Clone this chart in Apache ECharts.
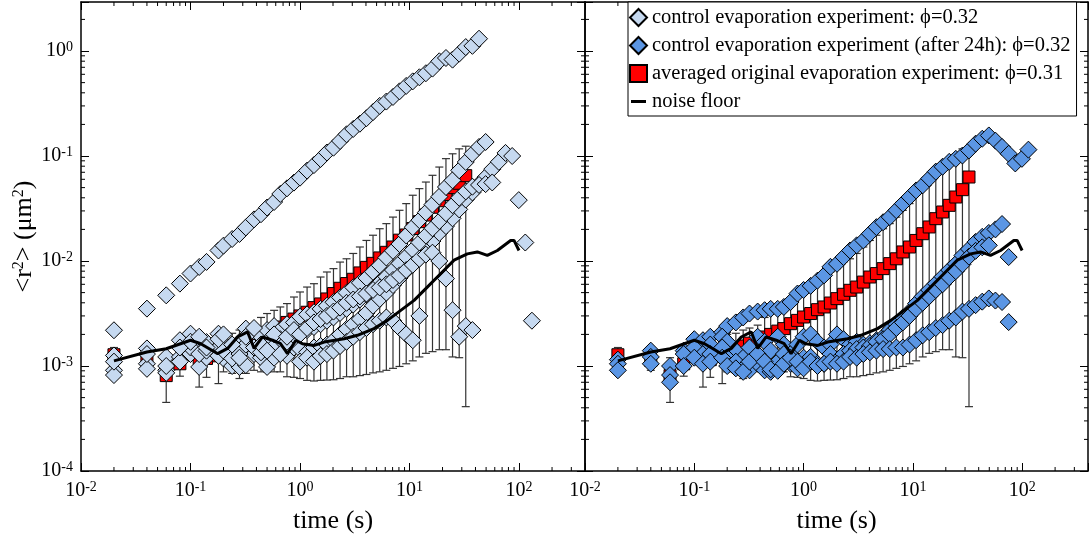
<!DOCTYPE html>
<html>
<head>
<meta charset="utf-8">
<script src="https://cdn.jsdelivr.net/npm/echarts@6/dist/echarts.min.js"></script>
<style>
html, body { margin: 0; padding: 0; background: #fff; }
#main { width: 1091px; height: 548px; }
</style>
</head>
<body>
<div id="main"></div>
<script>
var chart = echarts.init(document.getElementById('main'), null, {renderer: 'canvas'});

var FONT = 'Liberation Serif';
var X_MIN = 0.01, X_MAX = 400, Y_MIN = 1e-4, Y_MAX = 2.93;

var NAME_CTL = 'control evaporation experiment: \u03d5=0.32';
var NAME_DAY = 'control evaporation experiment (after 24h): \u03d5=0.32';
var NAME_RED = 'averaged original evaporation experiment: \u03d5=0.31';
var NAME_NOISE = 'noise floor';

// minor tick positions (2..9 of each decade)
var minorX = [0.02, 0.03, 0.04, 0.05, 0.06, 0.07, 0.08, 0.09,
  0.2, 0.3, 0.4, 0.5, 0.6, 0.7, 0.8, 0.9, 2, 3, 4, 5, 6, 7, 8, 9,
  20, 30, 40, 50, 60, 70, 80, 90, 200, 300];
var minorY = [2e-4, 3e-4, 4e-4, 5e-4, 6e-4, 7e-4, 8e-4, 9e-4,
  2e-3, 3e-3, 4e-3, 5e-3, 6e-3, 7e-3, 8e-3, 9e-3,
  2e-2, 3e-2, 4e-2, 5e-2, 6e-2, 7e-2, 8e-2, 9e-2,
  0.2, 0.3, 0.4, 0.5, 0.6, 0.7, 0.8, 0.9, 2];

// averaged original experiment (red squares + error bars)
var tRed = [0.02, 0.04, 0.06, 0.08, 0.12, 0.14, 0.18, 0.20, 0.24, 0.28, 0.32, 0.38,
  0.44, 0.50, 0.58, 0.66, 0.76, 0.88, 1.0, 1.16, 1.34, 1.54, 1.76, 2.02,
  2.32, 2.66, 3.06, 3.52, 4.04, 4.64, 5.34, 6.14, 7.06, 8.1, 9.32, 10.7,
  12.3, 14.1, 16.2, 18.7, 21.5, 24.7, 28.4, 32.6];
var redMeanL = [1.28e-3, 1.13e-3, 8.1e-4, 1.05e-3, 1.18e-3, 1.18e-3, 1.25e-3, 1.35e-3,
  1.45e-3, 1.55e-3, 1.65e-3, 1.8e-3, 1.92e-3, 2.05e-3, 2.2e-3, 2.35e-3,
  2.6e-3, 2.8e-3, 3.0e-3, 3.25e-3, 3.6e-3, 3.9e-3, 4.35e-3, 4.9e-3,
  5.5e-3, 6.1e-3, 6.7e-3, 7.7e-3, 8.7e-3, 9.5e-3, 1.07e-2, 1.21e-2,
  1.36e-2, 1.58e-2, 1.77e-2, 2.04e-2, 2.37e-2, 2.74e-2, 3.25e-2, 3.75e-2,
  4.3e-2, 5.0e-2, 5.5e-2, 6.5e-2];
var redMeanR = [1.28e-3, 1.13e-3, 8.1e-4, 1.05e-3, 1.15e-3, 1.15e-3, 1.25e-3, 1.35e-3,
  1.45e-3, 1.55e-3, 1.65e-3, 1.78e-3, 1.89e-3, 2.0e-3, 2.15e-3, 2.27e-3,
  2.53e-3, 2.72e-3, 2.93e-3, 3.16e-3, 3.44e-3, 3.65e-3, 3.98e-3, 4.38e-3,
  4.82e-3, 5.26e-3, 5.65e-3, 6.3e-3, 7.04e-3, 7.59e-3, 8.46e-3, 9.44e-3,
  1.05e-2, 1.22e-2, 1.36e-2, 1.57e-2, 1.82e-2, 2.11e-2, 2.53e-2, 2.93e-2,
  3.39e-2, 4.07e-2, 4.78e-2, 6.31e-2];
var redHigh = [1.5e-3, 1.4e-3, 1.2e-3, 1.31e-3, 1.3e-3, 1.35e-3, 1.7e-3, 2.0e-3,
  2.05e-3, 2.2e-3, 2.3e-3, 2.45e-3, 2.9e-3, 3.16e-3, 3.39e-3, 3.65e-3,
  3.93e-3, 4.54e-3, 5.07e-3, 5.65e-3, 6.08e-3, 7.04e-3, 7.86e-3, 8.46e-3,
  9.77e-3, 1.05e-2, 1.18e-2, 1.36e-2, 1.57e-2, 1.76e-2, 2.03e-2, 2.27e-2,
  2.62e-2, 3.04e-2, 3.52e-2, 4.23e-2, 4.89e-2, 5.65e-2, 6.55e-2, 7.85e-2,
  9.44e-2, 0.105, 0.117, 0.124];
var redLow = [9.1e-4, 9.1e-4, 4.5e-4, 8.0e-4, 6.3e-4, 7.8e-4, 6.8e-4, 8.8e-4,
  8.5e-4, 7.6e-4, 8.5e-4, 9.1e-4, 8.8e-4, 8.8e-4, 8.8e-4, 8.8e-4,
  7.9e-4, 7.8e-4, 7.6e-4, 7.3e-4, 7.2e-4, 7.3e-4, 7.35e-4, 7.4e-4,
  7.6e-4, 7.9e-4, 7.9e-4, 8.1e-4, 8.3e-4, 8.6e-4, 8.8e-4, 9.1e-4,
  9.5e-4, 9.9e-4, 1.05e-3, 1.12e-3, 1.22e-3, 1.32e-3, 1.37e-3, 1.43e-3,
  1.43e-3, 1.22e-3, 1.2e-3, 4.1e-4];

// noise floor
var tNoise = [0.02, 0.04, 0.06, 0.10, 0.124, 0.177, 0.218, 0.269, 0.332, 0.381, 0.454, 0.561,
  0.665, 0.768, 0.916, 1.05, 1.35, 1.66, 2.53, 3.34, 4.74, 6.28, 8.31, 11.0,
  14.6, 19.3, 25.5, 33.7, 41.6, 51.3, 63.4, 83.8, 89.9, 99.8];
var vNoise = [1.12e-3, 1.36e-3, 1.46e-3, 1.76e-3, 1.63e-3, 1.31e-3, 1.47e-3, 1.89e-3,
  2.11e-3, 1.47e-3, 1.89e-3, 1.76e-3, 1.63e-3, 1.31e-3, 1.76e-3, 1.63e-3,
  1.57e-3, 1.69e-3, 1.82e-3, 1.96e-3, 2.27e-3, 2.72e-3, 3.39e-3, 4.22e-3,
  5.67e-3, 7.6e-3, 1.02e-2, 1.17e-2, 1.22e-2, 1.13e-2, 1.26e-2, 1.57e-2,
  1.57e-2, 1.26e-2];

// lag times of the single-particle trajectories (diamonds)
var tD = [0.02, 0.04, 0.06, 0.08, 0.10, 0.12, 0.14, 0.18, 0.20, 0.24, 0.28, 0.32,
  0.38, 0.44, 0.50, 0.58, 0.66, 0.76, 0.88, 1.0, 1.16, 1.34, 1.54, 1.76,
  2.02, 2.32, 2.66, 3.06, 3.52, 4.04, 4.64, 5.34, 6.14, 7.06, 8.1, 9.32,
  10.7, 12.3, 14.1, 16.2, 18.7, 21.5, 24.7, 28.4, 32.6, 37.5, 43.1, 49.5,
  56.9, 65.4, 75.2, 86.5, 99.4, 114, 131];

// control experiment, left panel
var ctlTop = [2.19e-3, 3.52e-3, 4.71e-3, 6.09e-3, 7.6e-3, 8.77e-3, 9.8e-3, 1.26e-2,
  1.4e-2, 1.62e-2, 1.81e-2, 2.09e-2, 2.49e-2, 2.79e-2, 3.23e-2, 3.65e-2,
  4.35e-2, 4.92e-2, 5.58e-2, 6.22e-2, 7.26e-2, 8.2e-2, 9.36e-2, 0.108,
  0.12, 0.139, 0.161, 0.181, 0.203, 0.229, 0.262, 0.3,
  0.33, 0.365, 0.413, 0.465, 0.514, 0.562, 0.614, 0.68,
  0.798, 0.858, 0.828, 0.944, 1.09, 1.12, 1.31];
var ctlB = [1.26e-3, 1.47e-3, 1.22e-3, 1.76e-3, 2.03e-3, 1.47e-3, 1.69e-3, 2.03e-3,
  1.65e-3, 1.47e-3, 1.7e-3, 2.27e-3, 2.1e-3, 1.9e-3, 2.2e-3, 2.4e-3,
  2.2e-3, 2.5e-3, 2.6e-3, 2.95e-3, 3.1e-3, 3.25e-3, 3.5e-3, 3.75e-3,
  4.05e-3, 4.5e-3, 5.0e-3, 5.6e-3, 6.2e-3, 6.9e-3, 7.9e-3, 9.1e-3,
  1.08e-2, 1.25e-2, 1.45e-2, 1.75e-2, 2.1e-2, 2.45e-2, 2.9e-2, 3.45e-2,
  4.1e-2, 5.07e-2, 5.87e-2, 7.31e-2, 8.77e-2, 0.105, 0.122, 0.136];
var ctlC = [9.1e-4, 1.05e-3, 9.1e-4, 1.22e-3, 1.3e-3, 9.8e-4, 1.2e-3, 1.5e-3,
  1.18e-3, 1.0e-3, 9.8e-4, 1.02e-3, 1.3e-3, 1.2e-3, 9.8e-4, 1.2e-3,
  1.4e-3, 1.25e-3, 1.5e-3, 1.45e-3, 1.35e-3, 1.5e-3, 1.55e-3, 1.6e-3,
  1.75e-3, 2.0e-3, 2.25e-3, 2.5e-3, 2.8e-3, 3.2e-3, 3.75e-3, 4.35e-3,
  5.0e-3, 5.9e-3, 6.9e-3, 8.1e-3, 9.5e-3, 1.12e-2, 1.33e-2, 1.55e-2,
  1.85e-2, 2.15e-2, 2.55e-2, 3.1e-2, 3.85e-2, 4.5e-2, 5.4e-2, 6.3e-2,
  7.5e-2, 8.8e-2, 0.107, 0.1];
var ctlD = [8.2e-4, 9.4e-4, 8.6e-4, 1.1e-3, 1.5e-3, 1.3e-3, 1.4e-3, 1.25e-3,
  1.4e-3, 1.18e-3, 1.3e-3, 1.6e-3, 1.5e-3, 1.35e-3, 1.7e-3, 1.55e-3,
  1.8e-3, 1.7e-3, 1.95e-3, 2.1e-3, 2.2e-3, 2.35e-3, 2.5e-3, 2.7e-3,
  2.9e-3, 3.2e-3, 3.5e-3, 3.85e-3, 4.3e-3, 4.8e-3, 5.4e-3, 6.2e-3,
  7.1e-3, 8.2e-3, 9.5e-3, 1.1e-2, 1.28e-2, 1.5e-2, 1.75e-2, 2.05e-2,
  2.4e-2, 2.85e-2, 3.4e-2, 4.0e-2, 4.6e-2, 5.1e-2, 5.3e-2, 5.4e-2, 5.6e-2];
var ctlE = [1.1e-3, 1.3e-3, 1.0e-3, 1.5e-3, 1.7e-3, 1.9e-3, 1.5e-3, 1.8e-3,
  2.0e-3, 1.6e-3, 1.2e-3, 1.9e-3, 2.3e-3, 1.6e-3, 1.4e-3, 2.0e-3,
  1.3e-3, 1.9e-3, 2.2e-3, 2.0e-3, 2.3e-3, 2.6e-3, 2.8e-3, 3.0e-3,
  3.3e-3, 3.6e-3, 4.0e-3, 4.3e-3, 4.6e-3, 4.9e-3, 5.3e-3, 5.6e-3,
  6.0e-3, 6.6e-3, 7.3e-3, 8.2e-3, 9.2e-3, 1.05e-2, 1.15e-2, 1.2e-2,
  1.0e-2, 6.8e-3, 3.4e-3, 1.9e-3, 2.4e-3, 2.2e-3];
var ctlF = [null, null, null, null, null, null, null, null, null, null,
  null, null, null, null, null, null, null, null, null,
  1.1e-3, 1.2e-3, 1.1e-3, 1.25e-3, 1.3e-3, 1.4e-3, 1.55e-3, 1.7e-3,
  1.9e-3, 2.1e-3, 2.3e-3, 2.5e-3, 2.7e-3, 2.9e-3, 2.7e-3, 2.3e-3,
  2.0e-3, 1.76e-3, 3.0e-3,
  null, null, null, null, null, null, null, null, null, null, null, null, null, null,
  3.8e-2, 1.5e-2, 2.7e-3];

// control experiment after 24h, right panel
var dayG = [1.15e-3, 1.4e-3, 1.0e-3, 1.4e-3, 1.8e-3, 1.76e-3, 1.9e-3, 2.1e-3,
  2.4e-3, 2.6e-3, 2.9e-3, 3.16e-3, 3.3e-3, 3.4e-3, 3.5e-3, 3.5e-3,
  3.65e-3, 4.07e-3, 4.9e-3, 5.3e-3, 5.8e-3, 6.5e-3, 7.3e-3, 8.8e-3,
  9.4e-3, 1.09e-2, 1.26e-2, 1.41e-2, 1.57e-2, 1.82e-2, 2.1e-2, 2.34e-2,
  2.62e-2, 3.04e-2, 3.52e-2, 4.07e-2, 4.7e-2, 5.26e-2, 6.1e-2, 7.1e-2,
  7.9e-2, 8.8e-2, 9.4e-2, 0.101, 0.113, 0.131, 0.146, 0.157,
  0.14, 0.122, 0.105, 0.085, 0.094, 0.115];
var dayH = [1.05e-3, 1.22e-3, 8.2e-4, 1.3e-3, 1.5e-3, 1.3e-3, 1.6e-3, 1.9e-3,
  1.7e-3, 1.4e-3, 1.2e-3, 1.5e-3, 1.9e-3, 1.7e-3, 1.4e-3, 1.9e-3,
  1.6e-3, 1.3e-3, 1.6e-3, 1.9e-3, 2.0e-3, 1.7e-3, 1.5e-3, 1.6e-3,
  2.0e-3, 1.8e-3, 1.6e-3, 1.7e-3, 1.6e-3, 1.65e-3, 1.76e-3, 1.9e-3,
  2.2e-3, 2.5e-3, 2.9e-3, 3.3e-3, 3.94e-3, 4.6e-3, 5.3e-3, 6.1e-3,
  7.1e-3, 8.2e-3, 9.4e-3, 1.13e-2, 1.3e-2, 1.52e-2, 1.7e-2, 1.85e-2,
  2.0e-2, 2.25e-2];
var dayJ = [9.1e-4, 1.05e-3, 7.0e-4, 1.0e-3, 1.2e-3, 1.05e-3, 1.3e-3, 1.5e-3,
  1.2e-3, 1.1e-3, 9.5e-4, 9.1e-4, 1.05e-3, 9.1e-4, 8.8e-4, 1.1e-3,
  1.3e-3, 1.05e-3, 9.5e-4, 1.2e-3, 1.22e-3, 1.05e-3, 1.05e-3, 1.3e-3,
  1.12e-3, 1.3e-3, 1.4e-3, 1.45e-3, 1.5e-3, 1.55e-3, 1.7e-3, 1.8e-3,
  2.0e-3, 2.3e-3, 2.6e-3, 3.0e-3, 3.5e-3, 4.0e-3, 4.6e-3, 5.3e-3,
  6.0e-3, 7.0e-3, 8.0e-3, 9.3e-3, 1.1e-2, 1.25e-2, 1.35e-2, 1.41e-2,
  null, null, 1.09e-2];
var dayI = [null, null, null, null, null, null, 1.1e-3, 1.2e-3,
  1.0e-3, 9.5e-4, 8.8e-4, 1.1e-3, 1.3e-3, 1.1e-3, 9.3e-4, 9.0e-4,
  1.05e-3, 1.2e-3, 1.1e-3, 9.5e-4, 1.1e-3, 1.0e-3, 1.05e-3, 1.1e-3,
  1.05e-3, 1.1e-3, 1.22e-3, 1.2e-3, 1.3e-3, 1.35e-3, 1.4e-3, 1.45e-3,
  1.45e-3, 1.5e-3, 1.5e-3, 1.6e-3, 1.76e-3, 1.96e-3, 2.1e-3, 2.3e-3,
  2.45e-3, 2.7e-3, 2.9e-3, 3.3e-3, 3.5e-3, 3.8e-3, 4.1e-3, 4.4e-3,
  4.2e-3, 4.07e-3, 2.62e-3];

var ctlSets = [ctlTop, ctlB, ctlC, ctlD, ctlE, ctlF];
var daySets = [dayG, dayH, dayJ, dayI];

function pairs(ts, vs) {
    var out = [];
    for (var i = 0; i < ts.length; i++) {
        if (vs[i] != null) out.push([ts[i], vs[i]]);
    }
    return out;
}

function powLabel(v) {
    var e = Math.log10(v);
    var r = Math.round(e);
    if (Math.abs(e - r) > 1e-6) return '';
    return '{b|10}{s|' + r + '}';
}

var labelRich = {
    b: {fontFamily: FONT, fontSize: 20, color: '#000', lineHeight: 22},
    s: {fontFamily: FONT, fontSize: 14, color: '#000', lineHeight: 14, verticalAlign: 'top'}
};

function xAxis(grid, pos, labels) {
    return {
        type: 'log', logBase: 10, gridIndex: grid, position: pos,
        min: X_MIN, max: X_MAX,
        axisLine: {show: true, onZero: false, lineStyle: {color: '#000', width: 1.5}},
        axisTick: {show: true, inside: true, length: 8, lineStyle: {color: '#000', width: 1}},
        axisLabel: {show: labels, margin: 9, formatter: powLabel, rich: labelRich,
            showMinLabel: true, showMaxLabel: true},
        splitLine: {show: false},
        name: labels ? 'time (s)' : '', nameLocation: 'middle', nameGap: 37,
        nameTextStyle: {fontFamily: FONT, fontSize: 26, color: '#000'}
    };
}

function yAxis(grid, pos, labels) {
    return {
        type: 'log', logBase: 10, gridIndex: grid, position: pos,
        min: Y_MIN, max: Y_MAX,
        axisLine: {show: true, onZero: false, lineStyle: {color: '#000', width: 1.5}},
        axisTick: {show: true, inside: true, length: 8, lineStyle: {color: '#000', width: 1}},
        axisLabel: {show: labels, margin: 8, formatter: powLabel, rich: labelRich,
            showMinLabel: true, showMaxLabel: true},
        splitLine: {show: false},
        name: labels ? '{a|<r}{s|2}{a|> (\u03bcm}{s|2}{a|)}' : '',
        nameLocation: 'middle', nameGap: 42, nameRotate: 90,
        nameTextStyle: {
            rich: {
                a: {fontFamily: FONT, fontSize: 26, color: '#000', lineHeight: 28},
                s: {fontFamily: FONT, fontSize: 16, color: '#000', lineHeight: 16, verticalAlign: 'top'}
            }
        }
    };
}

function minorXItem(params, api) {
    var v = api.value(0);
    var b = api.coord([v, Y_MIN]);
    var t = api.coord([v, Y_MAX]);
    var st = {stroke: '#000', lineWidth: 1};
    return {type: 'group', children: [
        {type: 'line', shape: {x1: b[0], y1: b[1], x2: b[0], y2: b[1] - 4}, style: st},
        {type: 'line', shape: {x1: t[0], y1: t[1], x2: t[0], y2: t[1] + 4}, style: st}
    ]};
}

function minorYItem(params, api) {
    var v = api.value(1);
    var l = api.coord([X_MIN, v]);
    var r = api.coord([X_MAX, v]);
    var st = {stroke: '#000', lineWidth: 1};
    return {type: 'group', children: [
        {type: 'line', shape: {x1: l[0], y1: l[1], x2: l[0] + 4, y2: l[1]}, style: st},
        {type: 'line', shape: {x1: r[0], y1: r[1], x2: r[0] - 4, y2: r[1]}, style: st}
    ]};
}

function errBarItem(params, api) {
    var t = api.value(0);
    var lo = api.coord([t, api.value(1)]);
    var hi = api.coord([t, api.value(2)]);
    var cw = 4;
    var st = {stroke: '#333', lineWidth: 1.2};
    return {type: 'group', children: [
        {type: 'line', shape: {x1: lo[0], y1: lo[1], x2: hi[0], y2: hi[1]}, style: st},
        {type: 'line', shape: {x1: hi[0] - cw, y1: hi[1], x2: hi[0] + cw, y2: hi[1]}, style: st},
        {type: 'line', shape: {x1: lo[0] - cw, y1: lo[1], x2: lo[0] + cw, y2: lo[1]}, style: st}
    ]};
}

function panelSeries(panel, redMean, sets, setName, setColor) {
    var xi = panel * 2, yi = panel * 2;
    var list = [];
    list.push({
        type: 'custom', name: 'minorX' + panel, xAxisIndex: xi, yAxisIndex: yi, silent: true,
        renderItem: minorXItem, encode: {x: 0, y: 1}, z: 1,
        data: minorX.map(function (v) { return [v, Y_MIN]; })
    });
    list.push({
        type: 'custom', name: 'minorY' + panel, xAxisIndex: xi, yAxisIndex: yi, silent: true,
        renderItem: minorYItem, encode: {x: 0, y: 1}, z: 1,
        data: minorY.map(function (v) { return [X_MIN, v]; })
    });
    list.push({
        type: 'custom', name: 'errbar' + panel, xAxisIndex: xi, yAxisIndex: yi, silent: true,
        renderItem: errBarItem, encode: {x: 0, y: [1, 2]}, z: 2,
        data: tRed.map(function (t, i) { return [t, redLow[i], redHigh[i]]; })
    });
    list.push({
        type: 'scatter', name: NAME_RED, xAxisIndex: xi, yAxisIndex: yi, z: 3,
        symbol: 'rect', symbolSize: 12,
        itemStyle: {color: '#ff0000', borderColor: '#000', borderWidth: 1, opacity: 1},
        data: pairs(tRed, redMean)
    });
    sets.forEach(function (vals) {
        list.push({
            type: 'scatter', name: setName, xAxisIndex: xi, yAxisIndex: yi, z: 4,
            symbol: 'diamond', symbolSize: 17,
            itemStyle: {color: setColor, borderColor: '#000', borderWidth: 1, opacity: 1},
            data: pairs(tD, vals)
        });
    });
    list.push({
        type: 'line', name: NAME_NOISE, xAxisIndex: xi, yAxisIndex: yi, z: 5,
        symbol: 'none', smooth: false,
        lineStyle: {color: '#000', width: 3},
        itemStyle: {color: '#000'},
        data: pairs(tNoise, vNoise)
    });
    return list;
}

var option = {
    animation: false,
    backgroundColor: '#fff',
    grid: [
        {left: 81, top: 2, width: 504, height: 469},
        {left: 585, top: 2, width: 504, height: 469}
    ],
    xAxis: [xAxis(0, 'bottom', true), xAxis(0, 'top', false), xAxis(1, 'bottom', true), xAxis(1, 'top', false)],
    yAxis: [yAxis(0, 'left', true), yAxis(0, 'right', false), yAxis(1, 'left', false), yAxis(1, 'right', false)],
    legend: {
        orient: 'vertical', left: 628, top: 2,
        padding: [5, 6, 4, 1], itemGap: 7, itemWidth: 17, itemHeight: 17,
        borderColor: '#000', borderWidth: 1, backgroundColor: '#fff',
        textStyle: {fontFamily: FONT, fontSize: 20.5, color: '#000', lineHeight: 20},
        data: [
            {name: NAME_CTL, icon: 'diamond'},
            {name: NAME_DAY, icon: 'diamond'},
            {name: NAME_RED, icon: 'rect'},
            {name: NAME_NOISE, icon: 'path://M0,0 M1,7 L16,7 L16,10 L1,10 Z M17,17'}
        ]
    },
    series: [].concat(
        panelSeries(0, redMeanL, ctlSets, NAME_CTL, '#c6d9f0'),
        panelSeries(1, redMeanR, daySets, NAME_DAY, '#5b96e4')
    )
};

chart.setOption(option);
</script>
</body>
</html>
